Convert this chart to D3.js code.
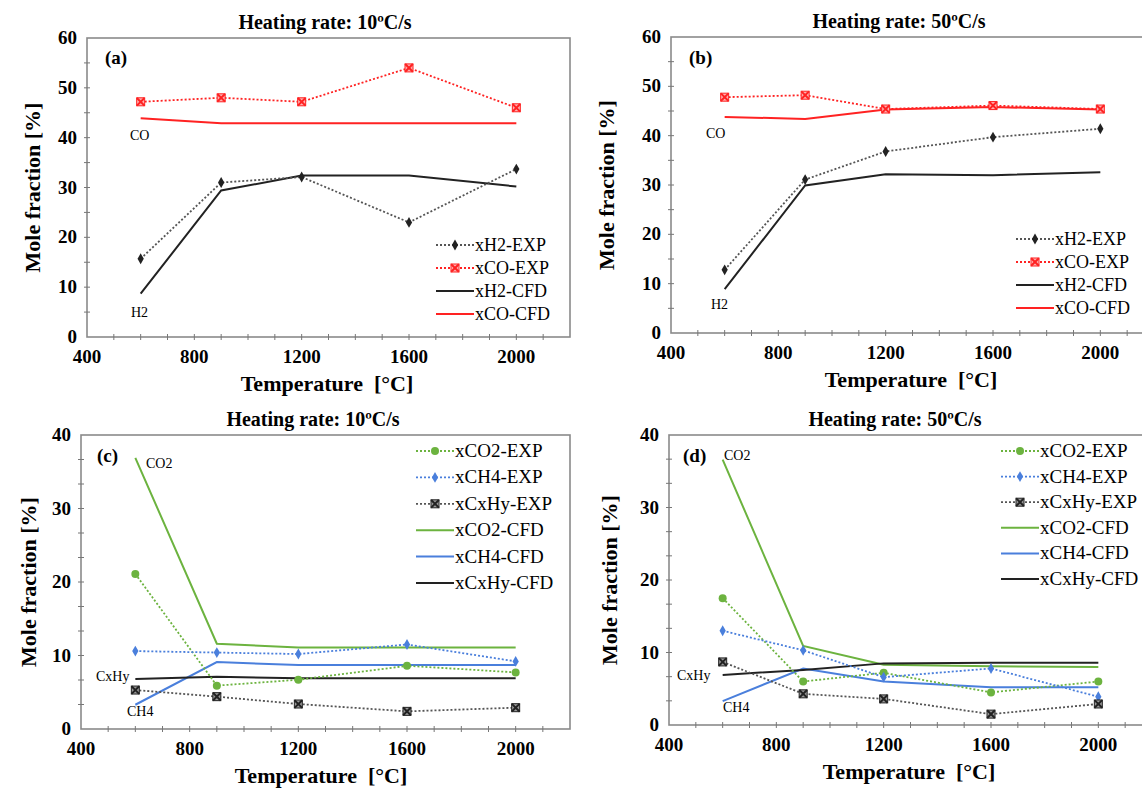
<!DOCTYPE html>
<html>
<head>
<meta charset="utf-8">
<script src="https://cdn.jsdelivr.net/npm/d3@7"></script>
<style>
  body { margin: 0; background: #fff; }
  svg { display: block; font-family: "Liberation Serif", "Times New Roman", serif; }
  text { white-space: pre; }
</style>
</head>
<body>
<svg width="1142" height="788"></svg>
<script>
// temperatures shared by every series
let temps = [600, 900, 1200, 1600, 2000];
let xTicks = [400, 800, 1200, 1600, 2000];

// (a) heating rate 10 C/s
let aH2Exp = [15.7, 31.0, 32.1, 23.0, 33.7];
let aCOExp = [47.2, 48.0, 47.2, 54.0, 46.0];
let aH2Cfd = [8.7, 29.4, 32.4, 32.4, 30.2];
let aCOCfd = [43.9, 42.9, 42.9, 42.9, 42.9];

// (b) heating rate 50 C/s
let bH2Exp = [12.8, 31.1, 36.8, 39.7, 41.4];
let bCOExp = [47.8, 48.2, 45.4, 46.1, 45.4];
let bH2Cfd = [8.9, 29.9, 32.2, 32.0, 32.6];
let bCOCfd = [43.8, 43.4, 45.3, 45.8, 45.3];

// (c) heating rate 10 C/s
let cCO2Exp = [21.1, 5.9, 6.7, 8.6, 7.7];
let cCH4Exp = [10.6, 10.4, 10.2, 11.5, 9.2];
let cCxHyExp = [5.3, 4.4, 3.4, 2.4, 2.9];
let cCO2Cfd = [36.9, 11.6, 11.1, 11.1, 11.1];
let cCH4Cfd = [3.3, 9.1, 8.7, 8.7, 8.7];
let cCxHyCfd = [6.8, 7.1, 6.9, 6.9, 6.9];

// (d) heating rate 50 C/s
let dCO2Exp = [17.5, 6.0, 7.2, 4.5, 6.0];
let dCH4Exp = [13.0, 10.3, 6.6, 7.8, 3.9];
let dCxHyExp = [8.7, 4.3, 3.6, 1.5, 2.9];
let dCO2Cfd = [36.6, 10.9, 8.3, 8.1, 8.0];
let dCH4Cfd = [3.3, 7.8, 6.0, 5.2, 5.2];
let dCxHyCfd = [6.9, 7.6, 8.5, 8.6, 8.6];

let red = "#ff2222", green = "#6cb33f", blue = "#4a7fdc", black = "#222";

let svg = d3.select("svg");

function drawPanel(p) {
  let x = d3.scaleLinear().domain([400, 2200]).range([p.left, p.left + p.w]);
  let y = d3.scaleLinear().domain([0, p.ymax]).range([p.bottom, p.top]);
  let g = svg.append("g");

  // box
  g.append("rect")
    .attr("x", p.left).attr("y", p.top)
    .attr("width", p.w).attr("height", p.bottom - p.top)
    .attr("fill", "none").attr("stroke", "#8a8a8a").attr("stroke-width", 1.6);

  // minor ticks
  d3.range(500, 2200, 100).forEach(function (t) {
    g.append("line")
      .attr("x1", x(t)).attr("x2", x(t))
      .attr("y1", p.bottom - 3).attr("y2", p.bottom + 3)
      .attr("stroke", "#777");
  });
  d3.range(p.ymax / 12, p.ymax, p.ymax / 12).forEach(function (t) {
    g.append("line")
      .attr("x1", p.left - 3).attr("x2", p.left + 3)
      .attr("y1", y(t)).attr("y2", y(t))
      .attr("stroke", "#777");
  });

  // axis labels
  g.selectAll(".xt").data(xTicks).enter().append("text")
    .attr("x", function (d) { return x(d); })
    .attr("y", p.bottom + 26)
    .attr("text-anchor", "middle")
    .attr("font-size", 19).attr("font-weight", "bold")
    .text(function (d) { return d; });
  g.selectAll(".yt").data(d3.range(0, p.ymax + 1, 10)).enter().append("text")
    .attr("x", p.left - 10)
    .attr("y", function (d) { return y(d) + 6; })
    .attr("text-anchor", "end")
    .attr("font-size", 19).attr("font-weight", "bold")
    .text(function (d) { return d; });

  g.append("text")
    .attr("x", p.left + 240).attr("y", p.bottom + 54)
    .attr("text-anchor", "middle")
    .attr("font-size", 22).attr("font-weight", "bold")
    .text("Temperature  [°C]");
  g.append("text")
    .attr("transform", "translate(" + p.ylabX + "," + (p.top + p.bottom) / 2 + ") rotate(-90)")
    .attr("text-anchor", "middle")
    .attr("font-size", 22).attr("font-weight", "bold")
    .text("Mole fraction [%]");
  g.append("text")
    .attr("x", p.titleX).attr("y", p.top - 9)
    .attr("text-anchor", "middle")
    .attr("font-size", 20).attr("font-weight", "bold")
    .text(p.title);
  g.append("text")
    .attr("x", p.left + p.tag[0]).attr("y", p.top + p.tag[1])
    .attr("font-size", 19).attr("font-weight", "bold")
    .text(p.tagText);

  // species labels
  p.notes.forEach(function (n) {
    g.append("text")
      .attr("x", n[1]).attr("y", n[2])
      .attr("font-size", 14)
      .text(n[0]);
  });

  let line = d3.line()
    .x(function (d, i) { return x(temps[i]); })
    .y(function (d) { return y(d); });

  // CFD lines
  p.series.filter(function (s) { return !s.dash; }).forEach(function (s) {
    g.append("path").datum(s.values)
      .attr("d", line).attr("fill", "none")
      .attr("stroke", s.color).attr("stroke-width", 2);
  });
  // EXP lines with markers
  p.series.filter(function (s) { return s.dash; }).forEach(function (s) {
    g.append("path").datum(s.values)
      .attr("d", line).attr("fill", "none")
      .attr("stroke", s.lineColor || s.color).attr("stroke-width", 1.8)
      .attr("stroke-dasharray", "2,2");
    s.values.forEach(function (v, i) {
      drawMarker(g, x(temps[i]), y(v), s);
    });
  });

  // legend
  p.series.forEach(function (s, i) {
    let ly = p.legY + i * p.legStep;
    let lg = g.append("g");
    lg.append("line")
      .attr("x1", p.legX).attr("x2", p.legX + 38)
      .attr("y1", ly).attr("y2", ly)
      .attr("stroke", s.dash ? (s.lineColor || s.color) : s.color)
      .attr("stroke-width", s.dash ? 1.8 : 2)
      .attr("stroke-dasharray", s.dash ? "2,2" : null);
    if (s.dash) drawMarker(lg, p.legX + 19, ly, s);
    lg.append("text")
      .attr("x", p.legX + 39).attr("y", ly + 6)
      .attr("font-size", p.legFont)
      .text(s.name);
  });
}

function drawMarker(g, cx, cy, s) {
  if (s.marker === "diamond") {
    g.append("path")
      .attr("d", d3.symbol(d3.symbolDiamond, 34)())
      .attr("transform", "translate(" + cx + "," + cy + ")")
      .attr("fill", s.color);
  } else if (s.marker === "circle") {
    g.append("circle").attr("cx", cx).attr("cy", cy).attr("r", 4)
      .attr("fill", s.color);
  } else if (s.marker === "xbox") {
    g.append("rect").attr("x", cx - 4).attr("y", cy - 4)
      .attr("width", 8).attr("height", 8)
      .attr("fill", s.boxFill).attr("stroke", s.color).attr("stroke-width", 1);
    g.append("path")
      .attr("d", d3.symbol(d3.symbolX, 40)())
      .attr("transform", "translate(" + cx + "," + cy + ")")
      .attr("stroke", s.color).attr("stroke-width", 2);
  }
}

let commonTop = {
  ymax: 60, w: 483,
};

drawPanel(Object.assign({}, commonTop, {
  left: 87, top: 38, bottom: 337, ylabX: 40, titleX: 325,
  title: "Heating rate: 10ºC/s", tagText: "(a)", tag: [18, 26],
  notes: [["CO", 130, 140], ["H2", 131, 317]],
  legX: 436, legY: 245, legStep: 23, legFont: 18,
  series: [
    { name: "xH2-EXP", values: aH2Exp, color: black, lineColor: "#555", dash: true, marker: "diamond" },
    { name: "xCO-EXP", values: aCOExp, color: red, dash: true, marker: "xbox", boxFill: "#ffb0b0" },
    { name: "xH2-CFD", values: aH2Cfd, color: black },
    { name: "xCO-CFD", values: aCOCfd, color: red }
  ]
}));

drawPanel(Object.assign({}, commonTop, {
  left: 671, top: 37, bottom: 333, ylabX: 614, titleX: 899,
  title: "Heating rate: 50ºC/s", tagText: "(b)", tag: [18, 27],
  notes: [["CO", 706, 138], ["H2", 711, 309]],
  legX: 1016, legY: 239, legStep: 23, legFont: 18,
  series: [
    { name: "xH2-EXP", values: bH2Exp, color: black, lineColor: "#555", dash: true, marker: "diamond" },
    { name: "xCO-EXP", values: bCOExp, color: red, dash: true, marker: "xbox", boxFill: "#ffb0b0" },
    { name: "xH2-CFD", values: bH2Cfd, color: black },
    { name: "xCO-CFD", values: bCOCfd, color: red }
  ]
}));

drawPanel({
  ymax: 40, w: 489,
  left: 81, top: 435, bottom: 729, ylabX: 36, titleX: 313,
  title: "Heating rate: 10ºC/s", tagText: "(c)", tag: [16, 27],
  notes: [["CO2", 146, 468], ["CxHy", 96, 681], ["CH4", 127, 716]],
  legX: 416, legY: 451, legStep: 26.4, legFont: 19,
  series: [
    { name: "xCO2-EXP", values: cCO2Exp, color: green, dash: true, marker: "circle" },
    { name: "xCH4-EXP", values: cCH4Exp, color: blue, dash: true, marker: "diamond" },
    { name: "xCxHy-EXP", values: cCxHyExp, color: black, lineColor: "#555", dash: true, marker: "xbox", boxFill: "#999" },
    { name: "xCO2-CFD", values: cCO2Cfd, color: green },
    { name: "xCH4-CFD", values: cCH4Cfd, color: blue },
    { name: "xCxHy-CFD", values: cCxHyCfd, color: black }
  ]
});

drawPanel({
  ymax: 40, w: 483,
  left: 669, top: 435, bottom: 725, ylabX: 617, titleX: 895,
  title: "Heating rate: 50ºC/s", tagText: "(d)", tag: [14, 27],
  notes: [["CO2", 724, 460], ["CxHy", 677, 680], ["CH4", 723, 712]],
  legX: 1001, legY: 451, legStep: 25.6, legFont: 19,
  series: [
    { name: "xCO2-EXP", values: dCO2Exp, color: green, dash: true, marker: "circle" },
    { name: "xCH4-EXP", values: dCH4Exp, color: blue, dash: true, marker: "diamond" },
    { name: "xCxHy-EXP", values: dCxHyExp, color: black, lineColor: "#555", dash: true, marker: "xbox", boxFill: "#999" },
    { name: "xCO2-CFD", values: dCO2Cfd, color: green },
    { name: "xCH4-CFD", values: dCH4Cfd, color: blue },
    { name: "xCxHy-CFD", values: dCxHyCfd, color: black }
  ]
});
</script>
</body>
</html>
